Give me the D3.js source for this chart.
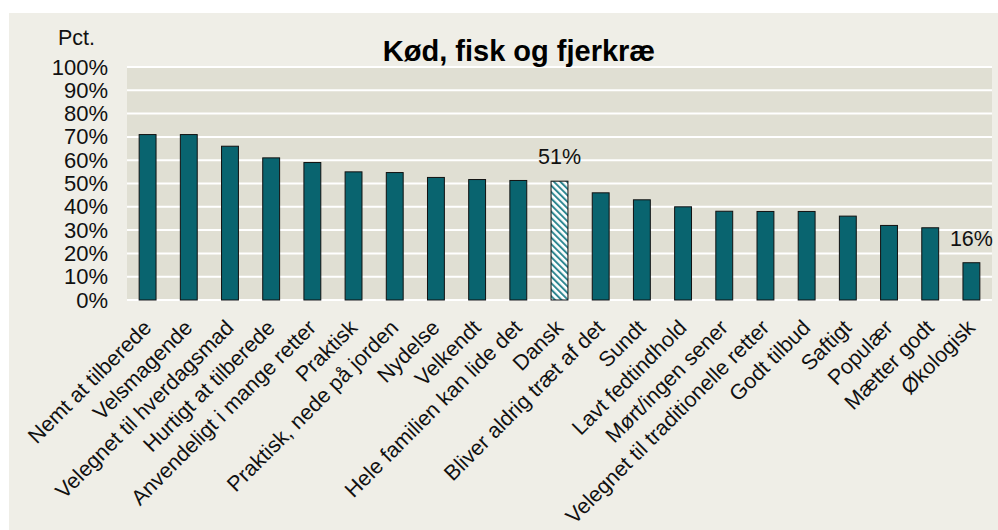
<!DOCTYPE html>
<html>
<head>
<meta charset="utf-8">
<script src="https://cdn.jsdelivr.net/npm/d3@7"></script>
<style>
  html, body { margin: 0; padding: 0; background: #ffffff; }
  svg { display: block; font-family: "Liberation Sans", Arial, sans-serif; }
</style>
</head>
<body>
<svg id="chart" width="998" height="530"></svg>
<script>
const categories = [
  "Nemt at tilberede", "Velsmagende", "Velegnet til hverdagsmad", "Hurtigt at tilberede",
  "Anvendeligt i mange retter", "Praktisk", "Praktisk, nede på jorden", "Nydelse",
  "Velkendt", "Hele familien kan lide det", "Dansk", "Bliver aldrig træt af det",
  "Sundt", "Lavt fedtindhold", "Mørt/ingen sener", "Velegnet til traditionelle retter",
  "Godt tilbud", "Saftigt", "Populær", "Mætter godt", "Økologisk"
];
const values = [71, 71, 66, 61, 59, 55, 54.7, 52.6, 51.7, 51.3, 51, 46, 43, 40, 38.1, 38, 38, 36, 32, 31, 16];
const highlighted = ["Dansk"];
const labelled = ["Dansk", "Økologisk"];
const yTicks = [0, 10, 20, 30, 40, 50, 60, 70, 80, 90, 100];
const titleText = "Kød, fisk og fjerkræ";
const yUnit = "Pct.";

const svg = d3.select("#chart");
const W = 998, H = 530;
const plot = { left: 127, right: 992, top: 67, bottom: 300 };

// panel background
svg.append("rect").attr("x", 9).attr("y", 13).attr("width", W - 9).attr("height", H - 13)
  .attr("fill", "#efeee7");

// hatch pattern
const defs = svg.append("defs");
const pat = defs.append("pattern").attr("id", "hatch")
  .attr("patternUnits", "userSpaceOnUse").attr("width", 4.6).attr("height", 4.6)
  .attr("patternTransform", "rotate(-45)");
pat.append("rect").attr("width", 4.6).attr("height", 4.6).attr("fill", "#ffffff");
pat.append("rect").attr("x", 0).attr("y", 0).attr("width", 2).attr("height", 4.6).attr("fill", "#2f8791");

const x = d3.scaleBand().domain(categories).range([plot.left, plot.right]).paddingInner(0.59).paddingOuter(0.295);
const y = d3.scaleLinear().domain([0, 100]).range([plot.bottom, plot.top]);

// plot area
svg.append("rect").attr("x", plot.left).attr("y", plot.top)
  .attr("width", plot.right - plot.left).attr("height", plot.bottom - plot.top)
  .attr("fill", "#e0dfd3");

// gridlines
svg.append("g").selectAll("line").data(yTicks).join("line")
  .attr("x1", plot.left).attr("x2", plot.right)
  .attr("y1", d => y(d)).attr("y2", d => y(d))
  .attr("stroke", "#ffffff").attr("stroke-width", 2);

// y axis labels
const yAxis = d3.axisLeft(y).tickValues(yTicks).tickFormat(d => d + "%").tickSize(0).tickPadding(0);
const gy = svg.append("g").attr("transform", `translate(${108},0)`).call(yAxis);
gy.select(".domain").remove();
gy.selectAll("text").attr("font-size", 22).attr("fill", "#111")
  .attr("font-family", "'Liberation Sans', Arial, sans-serif");

// bars
svg.append("g").selectAll("rect").data(categories).join("rect")
  .attr("x", d => x(d))
  .attr("y", (d, i) => y(values[i]))
  .attr("width", x.bandwidth())
  .attr("height", (d, i) => y(0) - y(values[i]))
  .attr("fill", d => highlighted.includes(d) ? "url(#hatch)" : "#09646f")
  .attr("stroke", "#111")
  .attr("stroke-width", 1);

// value labels
svg.append("g").selectAll("text").data(categories.filter(c => labelled.includes(c))).join("text")
  .attr("x", d => x(d) + x.bandwidth() / 2)
  .attr("y", d => y(values[categories.indexOf(d)]) - 17)
  .attr("text-anchor", "middle")
  .attr("font-size", 21.5).attr("fill", "#111")
  .text(d => d3.format(".0f")(values[categories.indexOf(d)]) + "%");

// x axis labels
const xAxis = d3.axisBottom(x).tickSize(0).tickPadding(0);
const gx = svg.append("g").attr("transform", `translate(0,${plot.bottom})`).call(xAxis);
gx.select(".domain").remove();
gx.selectAll(".tick text")
  .attr("font-size", 21.5).attr("fill", "#111")
  .attr("font-family", "'Liberation Sans', Arial, sans-serif")
  .attr("text-anchor", "end")
  .attr("x", 0).attr("y", 0).attr("dy", 0)
  .attr("transform", "translate(5,29) rotate(-45)");

// title
svg.append("text").attr("x", 519).attr("y", 61).attr("text-anchor", "middle")
  .attr("font-size", 29).attr("font-weight", "bold").attr("fill", "#000")
  .text(titleText);

// unit
svg.append("text").attr("x", 58).attr("y", 45).attr("font-size", 21.5).attr("fill", "#111")
  .text(yUnit);
</script>
</body>
</html>
